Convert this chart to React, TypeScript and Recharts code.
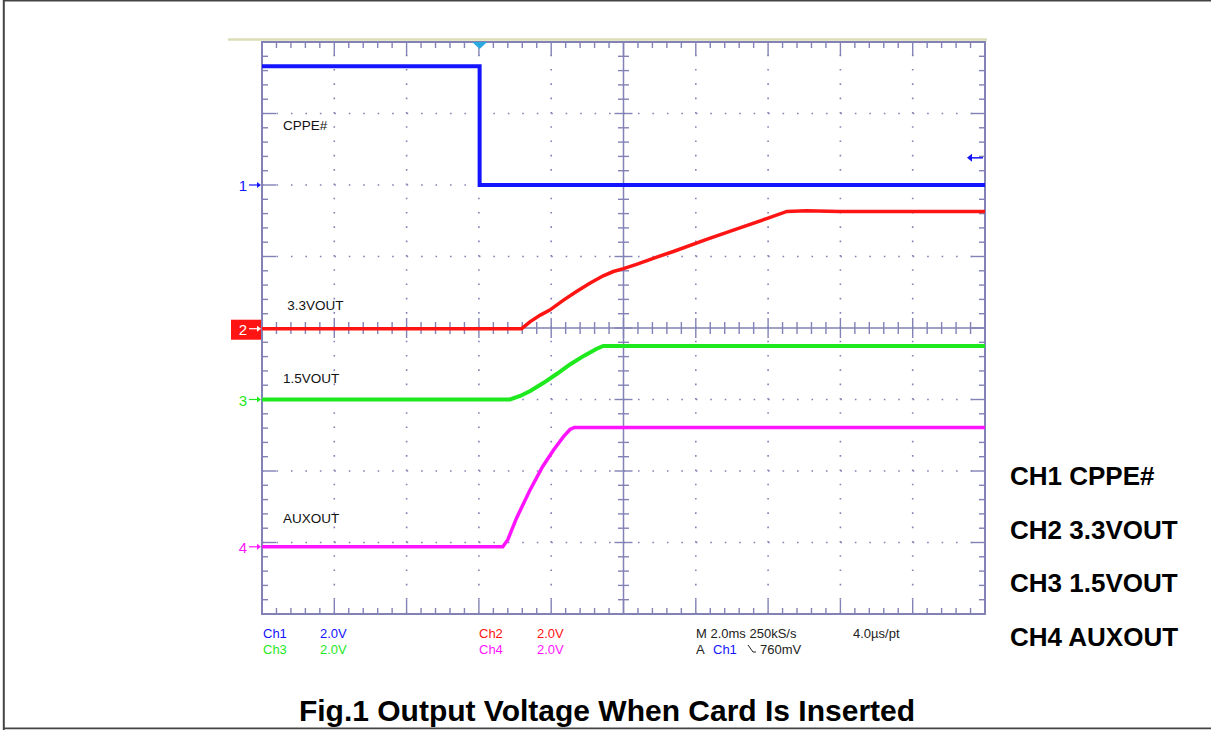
import { LineChart, Line, XAxis, YAxis, ReferenceLine, ReferenceArea, ReferenceDot } from 'recharts'

// time in divisions (0..10), level in divisions (0..8)
const CH1_T = [0, 3.01, 3.01, 10]
const CH1_V = [7.66, 7.66, 6.0, 6.0]

const CH2_T = [0, 3.59, 3.71, 3.85, 3.98, 4.17, 4.35, 4.54, 4.72, 4.86, 5.0, 5.18, 5.46, 5.69, 6.15, 6.61, 6.98, 7.26, 7.53, 7.99, 10]
const CH2_V = [3.99, 3.99, 4.09, 4.18, 4.25, 4.39, 4.51, 4.63, 4.73, 4.79, 4.83, 4.89, 4.99, 5.07, 5.24, 5.4, 5.53, 5.63, 5.64, 5.63, 5.63]

const CH3_T = [0, 3.43, 3.57, 3.71, 3.89, 4.08, 4.26, 4.45, 4.63, 4.72, 4.9, 10]
const CH3_V = [3.0, 3.0, 3.05, 3.12, 3.23, 3.36, 3.49, 3.61, 3.71, 3.75, 3.75, 3.75]

const CH4_T = [0, 3.33, 3.4, 3.52, 3.7, 3.88, 4.03, 4.17, 4.26, 4.32, 10]
const CH4_V = [0.94, 0.94, 1.04, 1.34, 1.72, 2.06, 2.29, 2.48, 2.58, 2.61, 2.61]

const CH_NAMES = ['1', '2', '3', '4']
const CH_GROUND = [6.0, 3.99, 3.0, 0.94]
const CH_COLORS = ['#1414ff', '#ff1414', '#1ee81e', '#ff14ff']
const TRACE_LABELS = ['CPPE#', '3.3VOUT', '1.5VOUT', 'AUXOUT']
const TRACE_LABEL_POS = [
  [0.29, 6.77],
  [0.35, 4.25],
  [0.29, 3.23],
  [0.29, 1.27],
]
const TRIGGER_T = 3.01
const TRIGGER_LEVEL = 6.38

const RIGHT_LABELS = ['CH1 CPPE#', 'CH2 3.3VOUT', 'CH3 1.5VOUT', 'CH4 AUXOUT']
const TITLE = 'Fig.1 Output Voltage When Card Is Inserted'

const W = 1211
const H = 730
const M = { top: 42, right: 226, bottom: 116, left: 262 }
const DIV_W = (W - M.left - M.right) / 10
const DIV_H = (H - M.top - M.bottom) / 8
const GRID = '#8282b6'
const FONT = '"Liberation Sans", Arial, sans-serif'

const toRows = (t: number[], v: number[]) => t.map((x, i) => ({ t: x, v: v[i] }))
const ch1 = toRows(CH1_T, CH1_V)
const ch2 = toRows(CH2_T, CH2_V)
const ch3 = toRows(CH3_T, CH3_V)
const ch4 = toRows(CH4_T, CH4_V)

const xMinor = Array.from({ length: 49 }, (_, i) => (i + 1) / 5)
const yMinor = Array.from({ length: 39 }, (_, i) => (i + 1) / 5)
const isMajor = (v: number) => Math.abs(v - Math.round(v)) < 1e-6

type Seg = [{ x: number; y: number }, { x: number; y: number }]

function buildTicks(): Seg[] {
  const s: Seg[] = []
  for (const t of xMinor) {
    const len = (isMajor(t) ? 14 : 6) / DIV_H
    s.push([{ x: t, y: 8 }, { x: t, y: 8 - len }])
    s.push([{ x: t, y: 0 }, { x: t, y: len }])
    const c = (isMajor(t) ? 10 : 6) / DIV_H
    s.push([{ x: t, y: 4 - c }, { x: t, y: 4 + c }])
  }
  for (const t of yMinor) {
    const len = (isMajor(t) ? 14 : 6) / DIV_W
    s.push([{ x: 0, y: t }, { x: len, y: t }])
    s.push([{ x: 10, y: t }, { x: 10 - len, y: t }])
    const c = (isMajor(t) ? 9 : 5.5) / DIV_W
    s.push([{ x: 5 - c, y: t }, { x: 5 + c, y: t }])
  }
  return s
}
const ticks = buildTicks()

function ChMarker(props: any) {
  const { cx, cy, idx } = props
  const color = CH_COLORS[idx]
  const boxed = idx === 1
  const fg = boxed ? '#fff' : color
  return (
    <g>
      {boxed && <rect x={cx - 31} y={cy - 9} width={30} height={20} fill={color} />}
      <text x={cx - 19} y={cy + 6} fontSize={15} fontFamily={FONT} fill={fg} textAnchor="middle">
        {CH_NAMES[idx]}
      </text>
      <line x1={cx - 13} y1={cy} x2={cx - 4} y2={cy} stroke={fg} strokeWidth={1.2} />
      <path d={`M${cx - 1},${cy} l-4,-3 v6 z`} fill={fg} />
    </g>
  )
}

function TraceLabel(props: any) {
  const { cx, cy, idx } = props
  return (
    <text x={cx} y={cy} fontSize={13.5} fontFamily={FONT} fill="#111">
      {TRACE_LABELS[idx]}
    </text>
  )
}

function TriggerMark(props: any) {
  const { cx, cy } = props
  return <path d={`M${cx - 7.5},${cy} L${cx + 7.5},${cy} L${cx},${cy + 7} Z`} fill="#2aa8e0" />
}

function LevelMark(props: any) {
  const { cx, cy } = props
  return (
    <g>
      <line x1={cx - 14} y1={cy} x2={cx - 2} y2={cy} stroke="#1414ff" strokeWidth={1.5} />
      <path d={`M${cx - 18},${cy} l5,-4 v8 z`} fill="#1414ff" />
    </g>
  )
}

function Overlay() {
  const t = { fontFamily: FONT, fontSize: 13 }
  return (
    <svg width={W} height={H} style={{ position: 'absolute', left: 0, top: 0, pointerEvents: 'none' }}>
      <line x1={3.8} y1={0} x2={3.8} y2={H} stroke="#444" strokeWidth={2} />
      <line x1={3} y1={0.8} x2={W} y2={0.8} stroke="#444" strokeWidth={1.6} />
      <line x1={3} y1={728.4} x2={W} y2={728.4} stroke="#444" strokeWidth={1.6} />
      <line x1={228} y1={39.5} x2={987} y2={39.5} stroke="#dcdcb6" strokeWidth={2.5} />

      <text x={263} y={638} {...t} fill={CH_COLORS[0]}>Ch1</text>
      <text x={320} y={638} {...t} fill={CH_COLORS[0]}>2.0V</text>
      <text x={263} y={654} {...t} fill={CH_COLORS[2]}>Ch3</text>
      <text x={320} y={654} {...t} fill={CH_COLORS[2]}>2.0V</text>
      <text x={479} y={638} {...t} fill={CH_COLORS[1]}>Ch2</text>
      <text x={537} y={638} {...t} fill={CH_COLORS[1]}>2.0V</text>
      <text x={479} y={654} {...t} fill={CH_COLORS[3]}>Ch4</text>
      <text x={537} y={654} {...t} fill={CH_COLORS[3]}>2.0V</text>
      <text x={696} y={638} {...t} fill="#222">M 2.0ms 250kS/s</text>
      <text x={853} y={638} {...t} fill="#222">4.0µs/pt</text>
      <text x={696} y={654} {...t} fill="#222">A</text>
      <text x={713} y={654} {...t} fill={CH_COLORS[0]}>Ch1</text>
      <path d="M748,645 L753,652 L756,652" stroke="#222" strokeWidth={1} fill="none" />
      <text x={760} y={654} {...t} fill="#222">760mV</text>

      {RIGHT_LABELS.map((s, i) => (
        <text key={s} x={1010} y={485 + i * 53.7} fontFamily={FONT} fontSize={26} fontWeight="bold" fill="#000">
          {s}
        </text>
      ))}
      <text x={607} y={721} textAnchor="middle" fontFamily={FONT} fontSize={30} fontWeight="bold" fill="#000">
        {TITLE}
      </text>
    </svg>
  )
}

export default function App() {
  return (
    <div style={{ position: 'absolute', left: 0, top: 0, width: W, height: H, background: '#fff' }}>
      <LineChart width={W} height={H} margin={M}>
        <XAxis type="number" dataKey="t" domain={[0, 10]} hide allowDataOverflow />
        <YAxis type="number" domain={[0, 8]} hide allowDataOverflow />

        {[1, 2, 3, 4, 6, 7, 8, 9].map((x) => (
          <ReferenceLine key={'gx' + x} x={x} stroke={GRID} strokeWidth={1.6} strokeDasharray={`1.6 ${DIV_H / 5 - 1.6}`} />
        ))}
        {[1, 2, 3, 5, 6, 7].map((y) => (
          <ReferenceLine key={'gy' + y} y={y} stroke={GRID} strokeWidth={1.6} strokeDasharray={`1.6 ${DIV_W / 5 - 1.6}`} />
        ))}
        <ReferenceLine x={5} stroke={GRID} strokeWidth={1.5} />
        <ReferenceLine y={4} stroke={GRID} strokeWidth={1.5} />
        {ticks.map((seg, i) => (
          <ReferenceLine key={'tk' + i} segment={seg} stroke={GRID} strokeWidth={1.4} ifOverflow="visible" />
        ))}
        <ReferenceArea x1={0} x2={10} y1={0} y2={8} fill="none" stroke={GRID} strokeWidth={2} ifOverflow="visible" />

        <Line data={ch1} dataKey="v" type="linear" stroke={CH_COLORS[0]} strokeWidth={4} dot={false} isAnimationActive={false} />
        <Line data={ch2} dataKey="v" type="linear" stroke={CH_COLORS[1]} strokeWidth={3.5} dot={false} isAnimationActive={false} />
        <Line data={ch3} dataKey="v" type="linear" stroke={CH_COLORS[2]} strokeWidth={4} dot={false} isAnimationActive={false} />
        <Line data={ch4} dataKey="v" type="linear" stroke={CH_COLORS[3]} strokeWidth={3.5} dot={false} isAnimationActive={false} />

        {CH_GROUND.map((g, i) => (
          <ReferenceDot key={'m' + i} x={0} y={g} ifOverflow="visible" shape={(p: any) => <ChMarker {...p} idx={i} />} />
        ))}
        {TRACE_LABEL_POS.map(([x, y], i) => (
          <ReferenceDot key={'l' + i} x={x} y={y} ifOverflow="visible" shape={(p: any) => <TraceLabel {...p} idx={i} />} />
        ))}
        <ReferenceDot x={TRIGGER_T} y={8} ifOverflow="visible" shape={(p: any) => <TriggerMark {...p} />} />
        <ReferenceDot x={10} y={TRIGGER_LEVEL} ifOverflow="visible" shape={(p: any) => <LevelMark {...p} />} />
      </LineChart>
      <Overlay />
    </div>
  )
}
